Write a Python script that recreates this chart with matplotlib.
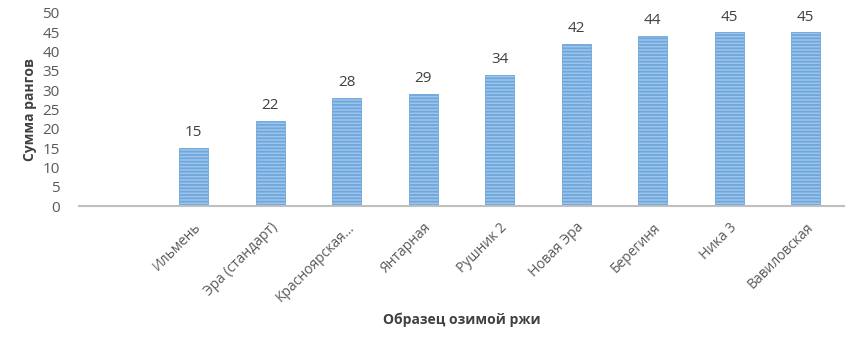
import matplotlib
matplotlib.use("Agg")
import matplotlib.pyplot as plt

categories = ["", "Ильмень", "Эра (стандарт)", "Красноярская...", "Янтарная", "Рушник 2",
              "Новая Эра", "Берегиня", "Ника 3", "Вавиловская"]
values = [None, 15, 22, 28, 29, 34, 42, 44, 45, 45]
yticks = [0, 5, 10, 15, 20, 25, 30, 35, 40, 45, 50]

plt.rcParams['font.family'] = ['Open Sans', 'DejaVu Sans']
plt.rcParams['hatch.color'] = '#5b93c8'
plt.rcParams['hatch.linewidth'] = 1.3

fig = plt.figure(figsize=(8.59, 3.4), dpi=100)
ax = fig.add_axes([0.092, 0.394, 0.8905, 0.568])

x = list(range(len(categories)))
bx = [i for i, v in zip(x, values) if v is not None]
bv = [v for v in values if v is not None]
bars = ax.bar(bx, bv, width=0.38, color='#9cc5ec', edgecolor='#6fa7dc',
              linewidth=0.6, hatch='-----', zorder=2)
for xi, v in zip(bx, bv):
    ax.text(xi, v + 2.0, str(v), ha='center', va='bottom', fontsize=11, color='#404040')

ax.set_xlim(-0.5, len(categories) - 0.5)
ax.set_ylim(0, 50)
ax.set_yticks(yticks)
ax.set_xticks(x)
ax.set_xticklabels(categories, rotation=45, ha='right', rotation_mode='anchor',
                   fontsize=10, color='#595959')
for s in ['top', 'right', 'left']:
    ax.spines[s].set_visible(False)
ax.spines['bottom'].set_color('#bfbfbf')
ax.spines['bottom'].set_linewidth(1.5)
ax.tick_params(axis='y', length=0, labelsize=11, labelcolor='#595959', pad=14)
ax.tick_params(axis='x', length=0, pad=10)
ax.set_ylabel('Сумма рангов', fontsize=10, fontweight='bold', color='#404040', labelpad=4)
ax.set_xlabel('Образец озимой ржи', fontsize=10, fontweight='bold', color='#404040', labelpad=6)

fig.savefig('out.png', dpi=100)
